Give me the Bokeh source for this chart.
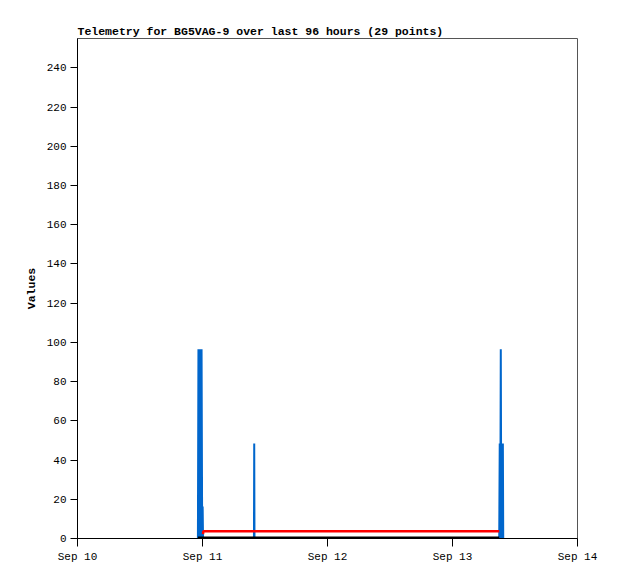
from bokeh.plotting import figure
from bokeh.models import FixedTicker, Range1d
from bokeh.embed import file_html
from bokeh.resources import INLINE

nan = float("nan")

# hours since Sep 10 00:00, 29 telemetry points
hours = [23.12, 23.22, 23.32, 23.42, 23.52, 23.62, 23.72, 23.82, 23.94, 24.03, 24.10, 24.16,
         33.88, 33.93, 33.98,
         42.0, 52.0, 62.0, 70.0, 76.0,
         80.97, 81.07, 81.17, 81.27, 81.37, 81.47, 81.57, 81.67, 81.74]
blue_vals = [0, 96.5, 0, 96.5, 0, 96.5, 0, 96.5, 0, 16.3, 0, nan,
             0, 48.5, 0,
             nan, nan, nan, nan, nan,
             0, 48.5, 0, 96.5, 0, 48.5, 0, 48.5, 0]
red_vals = [nan, nan, nan, nan, nan, nan, nan, nan, nan, nan, 2.2, 3.7,
            3.7, 3.7, 3.7,
            3.7, 3.7, 3.7, 3.7, 3.7,
            3.7, nan, nan, nan, nan, nan, nan, nan, nan]
black_vals = [0.5] * 21 + [nan] * 8

tick_hours = [0, 24, 48, 72, 96]
tick_labels = ["Sep 10", "Sep 11", "Sep 12", "Sep 13", "Sep 14"]
y_ticks = list(range(0, 241, 20))

FONT = "Liberation Mono"

p = figure(
    width=610, height=568,
    x_range=Range1d(0, 96), y_range=Range1d(0, 255),
    output_backend="svg", toolbar_location=None, tools="",
    min_border_left=77, min_border_right=33,
    min_border_top=38, min_border_bottom=30,
    title="Telemetry for BG5VAG-9 over last 96 hours (29 points)",
)

p.line(hours, blue_vals, line_color="#0066cc", line_width=2)
p.line(hours, red_vals, line_color="#ff0000", line_width=2.5)
p.line(hours, black_vals, line_color="#000000", line_width=2)

# title
p.title.align = "left"
p.title.text_font = FONT
p.title.text_font_size = "11.5px"
p.title.text_font_style = "bold"
p.title.text_color = "#000000"
p.title.standoff = 2

# axes
p.xaxis.ticker = FixedTicker(ticks=tick_hours)
p.xaxis.major_label_overrides = dict(zip(tick_hours, tick_labels))
p.yaxis.ticker = FixedTicker(ticks=y_ticks)
p.yaxis.axis_label = "Values"
p.yaxis.axis_label_text_font_style = "bold"
p.yaxis.axis_label_text_font_size = "11.5px"
p.yaxis.axis_label_text_font = FONT
p.yaxis.axis_label_text_color = "#000000"
p.yaxis.axis_label_standoff = 6

for ax in (p.xaxis, p.yaxis):
    ax.major_label_text_font = FONT
    ax.major_label_text_font_size = "11px"
    ax.major_label_text_color = "#000000"
    ax.axis_line_color = "#000000"
    ax.major_tick_line_color = "#000000"
    ax.minor_tick_line_color = None
    ax.major_tick_in = 0

p.xaxis.major_tick_out = 8
p.xaxis.major_label_standoff = 4
p.yaxis.major_tick_out = 7
p.yaxis.major_label_standoff = 4

p.xgrid.grid_line_color = None
p.ygrid.grid_line_color = None
p.outline_line_color = "#555555"
p.outline_line_alpha = 1.0

open("out.html", "w").write(file_html(p, INLINE))
